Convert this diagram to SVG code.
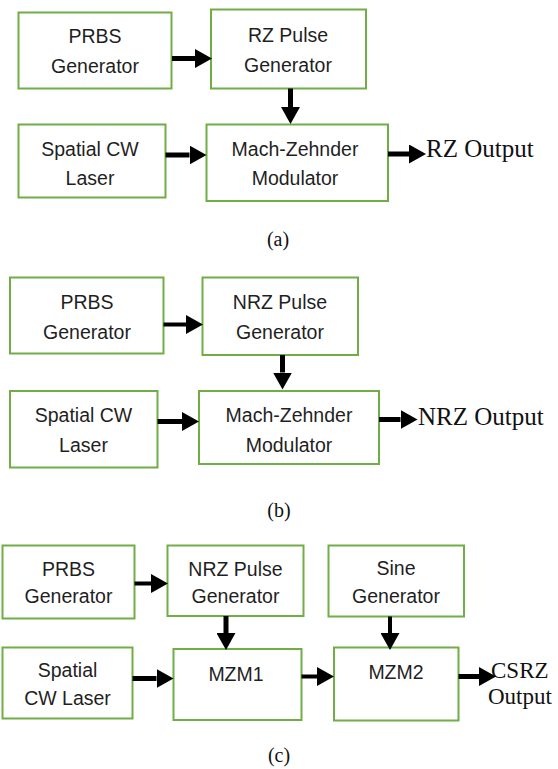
<svg xmlns="http://www.w3.org/2000/svg" width="558" height="769" viewBox="0 0 558 769">
<style>
.box{fill:#fff;stroke:#70ad47;stroke-width:2}
.t{font-family:"Liberation Sans",Arial,sans-serif;font-size:19.5px;fill:#1f1f1f;text-anchor:middle}
.o{font-family:"Liberation Serif","Times New Roman",serif;font-size:25px;fill:#111}
.o2{font-family:"Liberation Serif","Times New Roman",serif;font-size:23px;fill:#111}
.cap{font-family:"Liberation Serif","Times New Roman",serif;font-size:20px;fill:#111;text-anchor:middle}
.a{stroke:#000;stroke-width:5;fill:none;marker-end:url(#ah)}
.a4{stroke:#000;stroke-width:4;fill:none;marker-end:url(#ah)}
</style>
<defs>
<marker id="ah" markerUnits="userSpaceOnUse" markerWidth="18" markerHeight="19" refX="0" refY="9.5" orient="auto" viewBox="0 0 18 19">
<path d="M0,0 L17,9.5 L0,19 z" fill="#000"/>
</marker>
</defs>
<rect width="558" height="769" fill="#fff"/>

<!-- Panel (a) -->
<g id="a-prbs"><rect class="box" x="18.5" y="12.5" width="153" height="76"/><text class="t" x="95" y="43">PRBS</text><text class="t" x="95" y="73">Generator</text></g>
<g id="a-rz"><rect class="box" x="211" y="9.5" width="155" height="79"/><text class="t" x="288" y="42">RZ Pulse</text><text class="t" x="288" y="72">Generator</text></g>
<g id="a-laser"><rect class="box" x="18.5" y="124.5" width="147" height="73"/><text class="t" x="90" y="156">Spatial CW</text><text class="t" x="90" y="185">Laser</text></g>
<g id="a-mzm"><rect class="box" x="206.5" y="124.5" width="181.5" height="76.5"/><text class="t" x="295" y="156">Mach-Zehnder</text><text class="t" x="295" y="185">Modulator</text></g>
<g id="a-out"><text class="o" x="426" y="157">RZ Output</text></g>
<text class="cap" x="278" y="246">(a)</text>

<!-- Panel (b) -->
<g id="b-prbs"><rect class="box" x="10" y="277.5" width="153.5" height="76"/><text class="t" x="87" y="309">PRBS</text><text class="t" x="87" y="338.5">Generator</text></g>
<g id="b-nrz"><rect class="box" x="202.5" y="277.5" width="155.5" height="77.5"/><text class="t" x="280" y="309">NRZ Pulse</text><text class="t" x="280" y="338.5">Generator</text></g>
<g id="b-laser"><rect class="box" x="10" y="391" width="147.5" height="76.5"/><text class="t" x="83.5" y="421.5">Spatial CW</text><text class="t" x="83.5" y="451.5">Laser</text></g>
<g id="b-mzm"><rect class="box" x="199" y="391" width="180" height="73"/><text class="t" x="289" y="421.5">Mach-Zehnder</text><text class="t" x="289" y="451.5">Modulator</text></g>
<g id="b-out"><text class="o" x="418" y="424.5">NRZ Output</text></g>
<text class="cap" x="279" y="517">(b)</text>

<!-- Panel (c) -->
<g id="c-prbs"><rect class="box" x="2.5" y="545.5" width="132" height="73"/><text class="t" x="68.5" y="576">PRBS</text><text class="t" x="68.5" y="602.5">Generator</text></g>
<g id="c-nrz"><rect class="box" x="167.5" y="545.5" width="136" height="70.5"/><text class="t" x="235.5" y="576">NRZ Pulse</text><text class="t" x="235.5" y="603">Generator</text></g>
<g id="c-sine"><rect class="box" x="328.5" y="545.5" width="135.5" height="71"/><text class="t" x="396" y="575">Sine</text><text class="t" x="396" y="603">Generator</text></g>
<g id="c-laser"><rect class="box" x="2.5" y="647.5" width="130" height="71"/><text class="t" x="67.5" y="677">Spatial</text><text class="t" x="67.5" y="705">CW Laser</text></g>
<g id="c-mzm1"><rect class="box" x="173.5" y="649" width="128" height="71"/><text class="t" x="236" y="681">MZM1</text></g>
<g id="c-mzm2"><rect class="box" x="334" y="647.5" width="124.5" height="73"/><text class="t" x="396" y="679">MZM2</text></g>
<g id="c-out"><text class="o2" x="491" y="677.5">CSRZ</text><text class="o2" x="488" y="704">Output</text></g>
<text class="cap" x="279" y="762">(c)</text>

<g id="connectors">
<line class="a" x1="172" y1="58.5" x2="195" y2="58.5"/>
<line class="a" x1="290.5" y1="88.5" x2="290.5" y2="107"/>
<line class="a" x1="165.5" y1="155" x2="189.5" y2="155"/>
<line class="a" x1="388" y1="154" x2="409" y2="154"/>

<line class="a4" x1="163.5" y1="324.5" x2="186" y2="324.5"/>
<line class="a" x1="282.5" y1="355" x2="282.5" y2="372.5"/>
<line class="a" x1="157.5" y1="421.5" x2="182" y2="421.5"/>
<line class="a" x1="379" y1="419.5" x2="400.5" y2="419.5"/>

<line class="a4" x1="134.5" y1="583.5" x2="151" y2="583.5"/>
<line class="a" x1="226" y1="616" x2="226" y2="633"/>
<line class="a" x1="132.5" y1="678.5" x2="156.5" y2="678.5"/>
<line class="a4" x1="301.5" y1="676.5" x2="317" y2="676.5"/>
<line class="a4" x1="390" y1="616.5" x2="390" y2="633"/>
<line class="a" x1="458.5" y1="676.5" x2="479" y2="676.5"/>
</g>
</svg>
